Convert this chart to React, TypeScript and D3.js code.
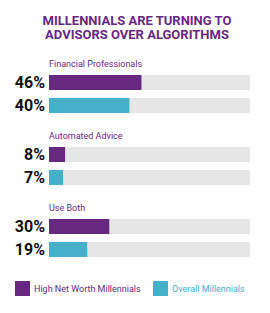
import * as d3 from "d3";

const categories = ["Financial Professionals", "Automated Advice", "Use Both"];
const highNetWorth = [46, 8, 30];
const overall = [40, 7, 19];
const seriesNames = ["High Net Worth Millennials", "Overall Millennials"];

const width = 270,
	height = 313;
const purple = "#68287f";
const cyan = "#46afca";

export default function App() {
	const x = d3.scaleLinear().domain([0, 100]).range([49, 250]);
	// group offsets
	const groupY = d3.scaleBand().domain(categories).range([58, 274]).paddingInner(0);
	const barH = 15;

	return (
		<svg width={width} height={height} style={{ position: "absolute", left: 0, top: 0, fontFamily: "Roboto" }}>
			<text x={137} y={25} textAnchor="middle" fontSize={13} fontWeight="bold" fill={purple}>
				MILLENNIALS ARE TURNING TO
			</text>
			<text x={137} y={39} textAnchor="middle" fontSize={13} fontWeight="bold" fill={purple}>
				ADVISORS OVER ALGORITHMS
			</text>
			{categories.map((c, i) => {
				const y0 = groupY(c);
				const vals = [highNetWorth[i], overall[i]];
				return (
					<g key={c} transform={`translate(0,${y0})`}>
						<text x={x(0)} y={9} fontSize={9} fill={purple}>
							{c}
						</text>
						{vals.map((v, j) => {
							const by = 17 + j * 23;
							return (
								<g key={j}>
									<rect x={x(0)} y={by} width={x(100) - x(0)} height={barH} fill="#e6e6e6" />
									<rect x={x(0)} y={by} width={x(v) - x(0)} height={barH} fill={j === 0 ? purple : cyan} />
									<text x={45} y={by + 13} textAnchor="end" fontSize={16} fontWeight="bold" fill="#111">
										{v}%
									</text>
								</g>
							);
						})}
					</g>
				);
			})}
			{seriesNames.map((s, i) => {
				const lx = i === 0 ? 15 : 153;
				return (
					<g key={s}>
						<rect x={lx} y={281} width={15} height={15} fill={i === 0 ? purple : cyan} />
						<text x={lx + 19} y={292} fontSize={9} fill={i === 0 ? purple : cyan}>
							{s}
						</text>
					</g>
				);
			})}
		</svg>
	);
}
